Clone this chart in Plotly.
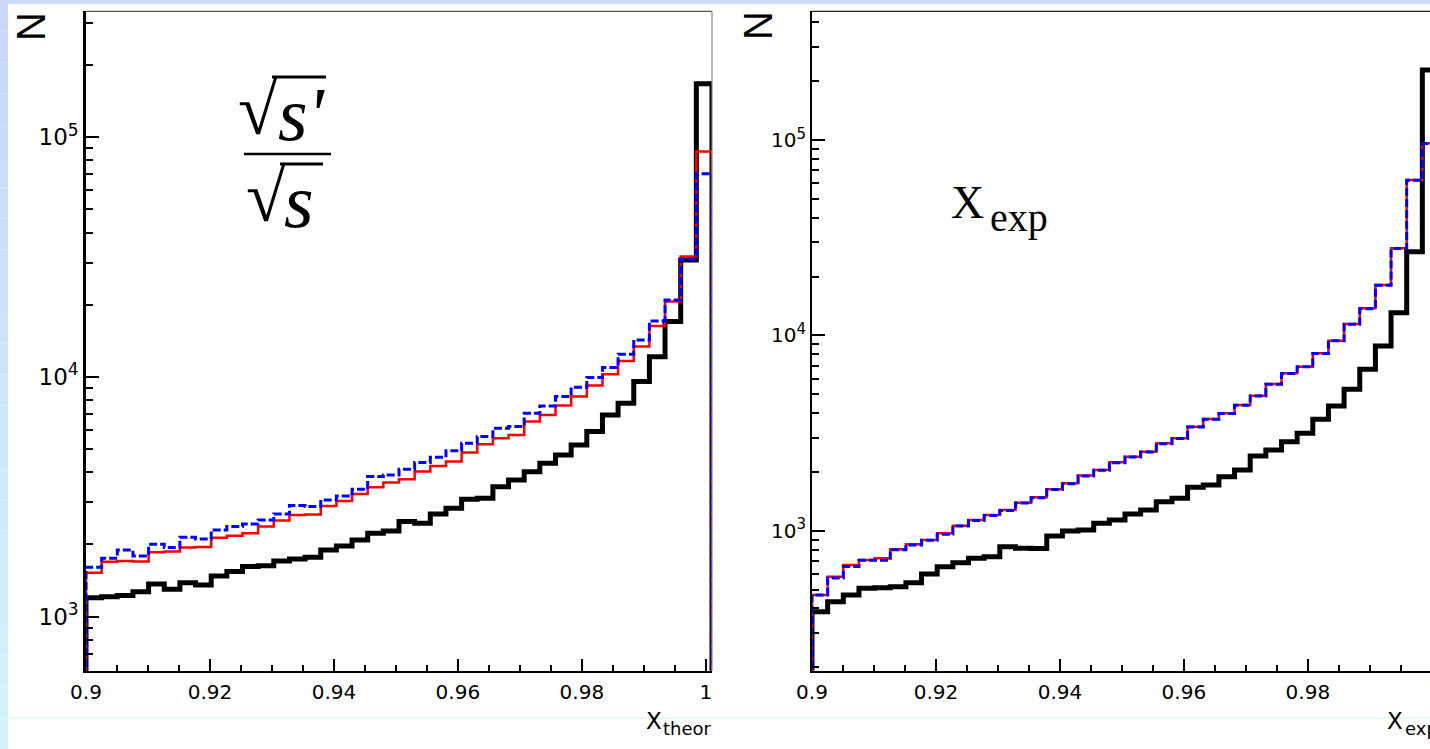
import numpy as np
import plotly.graph_objects as go

# ---------------- data ----------------
BIN_LO, BIN_HI, N_BINS = 0.9, 1.001, 40

theor_black = [1200, 1210, 1225, 1271, 1369, 1301, 1386, 1356, 1478, 1541,
               1617, 1632, 1708, 1741, 1769, 1898, 1972, 2089, 2228, 2278,
               2491, 2453, 2682, 2833, 3089, 3119, 3486, 3719, 4026, 4365,
               4728, 5204, 5914, 6942, 7767, 9559, 12150, 17010, 30770, 166900]
theor_red = [1526, 1696, 1708, 1700, 1857, 1870, 1941, 1950, 2136, 2177,
             2228, 2375, 2515, 2656, 2670, 2896, 3039, 3250, 3467, 3624,
             3743, 4027, 4254, 4433, 4833, 5238, 5550, 5728, 6511, 6943,
             7593, 8276, 9199, 10264, 11660, 13380, 16320, 20620, 31760, 87100]
theor_blue = [1607, 1752, 1898, 1792, 2005, 1941, 2144, 2109, 2300, 2375,
              2436, 2532, 2682, 2905, 2877, 3068, 3187, 3400, 3838, 3901,
              4121, 4390, 4624, 4926, 5289, 5636, 6109, 6204, 7057, 7570,
              8276, 9058, 9933, 10935, 12435, 14270, 17125, 20950, 30970, 70300]

exp_black = [385, 433, 469, 507, 510, 517, 542, 600, 654, 686,
             722, 736, 828, 813, 810, 939, 997, 1008, 1091, 1134,
             1217, 1276, 1408, 1465, 1668, 1714, 1890, 2046, 2413, 2590,
             2855, 3153, 3719, 4350, 5297, 6707, 8826, 13070, 26830, 228500]
exp_red = [469, 581, 667, 708, 722, 803, 852, 896, 970, 1061,
           1134, 1203, 1276, 1391, 1483, 1629, 1748, 1915, 2046, 2239,
           2393, 2538, 2803, 2973, 3408, 3731, 3991, 4401, 4912, 5638,
           6397, 6914, 8095, 9395, 11440, 13760, 18120, 27920, 62500, 96300]
exp_blue = [469, 572, 655, 705, 705, 800, 845, 893, 960, 1058,
            1128, 1195, 1270, 1385, 1475, 1625, 1740, 1905, 2040, 2230,
            2385, 2530, 2790, 2965, 3400, 3720, 3985, 4390, 4900, 5620,
            6380, 6900, 8080, 9380, 11400, 13700, 18050, 27800, 62300, 96000]

x_tickvals = [0.9, 0.92, 0.94, 0.96, 0.98, 1.0]
x_ticktext = ["0.9", "0.92", "0.94", "0.96", "0.98", "1"]
y_tickvals = [1e3, 1e4, 1e5]
y_exponents = ["3", "4", "5"]

# ---------------- layout helpers ----------------
W, H = 1430, 749
FLOOR = 10


def px(x):
    return x / W


def py(y):
    return 1 - y / H


def step_xy(vals):
    e = np.linspace(BIN_LO, BIN_HI, N_BINS + 1)
    xs = [e[0]] + list(e[:-1]) + [e[-1]]
    ys = [FLOOR] + list(vals) + [FLOOR]
    return xs, ys


fig = go.Figure()

styles = [
    dict(color="black", width=5),
    dict(color="#ff0000", width=2.5),
    dict(color="#0000ff", width=3, dash="8px,3px"),
]
for xa, ya, series in [("x", "y", [theor_black, theor_red, theor_blue]),
                       ("x2", "y2", [exp_black, exp_red, exp_blue])]:
    for vals, st in zip(series, styles):
        xs, ys = step_xy(vals)
        fig.add_trace(go.Scatter(x=xs, y=ys, mode="lines", line=dict(shape="hv", **st),
                                 xaxis=xa, yaxis=ya, showlegend=False, hoverinfo="skip"))

sans = "DejaVu Sans, Liberation Sans, Arial, sans-serif"
serif = "Liberation Serif, Times New Roman, serif"
narrow = "Liberation Sans Narrow, Arial Narrow, Liberation Sans, sans-serif"

minor_x = [round(0.9 + 0.005 * i, 3) for i in range(21)]


def xaxis_cfg(domain, rng, anchor):
    return dict(domain=domain, range=rng, anchor=anchor, showline=True, linewidth=2, linecolor="black",
                ticks="inside", ticklen=12, tickwidth=1.5, tickcolor="black",
                tickmode="array", tickvals=x_tickvals, ticktext=x_ticktext,
                tickfont=dict(family=sans, size=20, color="black"),
                showgrid=False, zeroline=False, ticklabelstandoff=2, automargin=False,
                minor=dict(tickmode="array", tickvals=minor_x, ticks="inside",
                           ticklen=6, tickwidth=1.5, tickcolor="black", showgrid=False))


def yaxis_cfg(anchor, rng, lw, minor_vals, fsize, supsize):
    ticktext = ["10<sup><span style='font-size:%dpx'>%s</span></sup>" % (supsize, e) for e in y_exponents]
    return dict(domain=[py(670.7), py(11.3)], type="log", range=rng, anchor=anchor,
                showline=True, linewidth=lw, linecolor="black",
                ticks="inside", ticklen=13, tickwidth=2, tickcolor="black",
                tickmode="array", tickvals=y_tickvals, ticktext=ticktext,
                tickfont=dict(family=sans, size=fsize, color="black"),
                showgrid=False, zeroline=False, automargin=False,
                minor=dict(tickmode="array", tickvals=minor_vals, ticks="inside",
                           ticklen=7, tickwidth=1.5, tickcolor="black", showgrid=False))


minor_y1 = [m * 10 ** d for d in (2, 3, 4, 5) for m in range(2, 10) if 595 < m * 10 ** d < 335000]
minor_y2 = [m * 10 ** d for d in (2, 3, 4, 5) for m in range(2, 10) if 192 < m * 10 ** d < 456000]

scale = (712 - 86) / (BIN_HI - BIN_LO)
x2_end = BIN_LO + (W - 812) / scale

fig.update_layout(
    width=W, height=H, autosize=False,
    margin=dict(l=0, r=0, t=0, b=0, pad=0, autoexpand=False),
    paper_bgcolor="white", plot_bgcolor="white",
    font=dict(family=sans, size=20, color="black"),
    xaxis=xaxis_cfg([px(86), px(712)], [BIN_LO, BIN_HI], "y"),
    yaxis=yaxis_cfg("x", [np.log10(595), np.log10(335000)], 2.5, minor_y1, 23, 17),
    xaxis2=xaxis_cfg([px(812), 1.0], [BIN_LO, x2_end], "y2"),
    yaxis2=yaxis_cfg("x2", [np.log10(192), np.log10(456000)], 2, minor_y2, 20, 15),
)

shapes = []
# background decoration: top band and left gradient strip
shapes.append(dict(type="rect", xref="paper", yref="paper", x0=0, x1=1, y0=py(4), y1=1,
                   fillcolor="#cbd9fb", line=dict(width=0), layer="below"))
c0 = np.array([0xc9, 0xd7, 0xfa])
c1 = np.array([0xd1, 0xf4, 0xfc])
nseg = 24
for i in range(nseg):
    t = i / (nseg - 1)
    c = (c0 * (1 - t) + c1 * t).astype(int)
    shapes.append(dict(type="rect", xref="paper", yref="paper", x0=0, x1=px(8),
                       y0=py(H * (i + 1) / nseg), y1=py(H * i / nseg),
                       fillcolor="rgb(%d,%d,%d)" % tuple(c), line=dict(width=0), layer="below"))
shapes.append(dict(type="line", xref="paper", yref="paper", x0=px(8), x1=1, y0=py(718), y1=py(718),
                   line=dict(color="#d3f1fa", width=1.2), layer="below"))
# frame lines
shapes.append(dict(type="line", xref="paper", yref="paper", x0=px(86), x1=px(712), y0=py(11.3), y1=py(11.3),
                   line=dict(color="#555555", width=1.2)))
shapes.append(dict(type="line", xref="paper", yref="paper", x0=px(712), x1=px(712), y0=py(11.3), y1=py(670.7),
                   line=dict(color="#888888", width=1.2)))
shapes.append(dict(type="line", xref="paper", yref="paper", x0=px(812), x1=1, y0=py(11.3), y1=py(11.3),
                   line=dict(color="#222222", width=1.2)))
# fraction decorations (vinculums and bar)
shapes.append(dict(type="line", xref="paper", yref="paper", x0=px(272), x1=px(326), y0=py(77), y1=py(77),
                   line=dict(color="black", width=3)))
shapes.append(dict(type="line", xref="paper", yref="paper", x0=px(244), x1=px(331), y0=py(154), y1=py(154),
                   line=dict(color="black", width=2.5)))
shapes.append(dict(type="line", xref="paper", yref="paper", x0=px(280), x1=px(323), y0=py(164), y1=py(164),
                   line=dict(color="black", width=3)))
fig.update_layout(shapes=shapes)


def ann(text, x, y, size, family, xanchor="left", yanchor="middle", angle=0, weight="normal",
        style="normal"):
    return dict(text=text, x=px(x), y=py(y), xref="paper", yref="paper", showarrow=False,
                xanchor=xanchor, yanchor=yanchor, textangle=angle, borderpad=0,
                font=dict(family=family, size=size, color="black", weight=weight, style=style))


annotations = [
    ann("N", 31, 26, 40, narrow, xanchor="center", angle=-90),
    ann("N", 758, 26, 40, narrow, xanchor="center", angle=-90),
    ann("X", 645, 721, 23, sans),
    ann("theor", 662, 728, 18, sans),
    ann("X", 1386, 721, 23, sans),
    ann("exp", 1404, 728, 18, sans),
    ann("1", 1434, 687, 20, sans, xanchor="center"),
    # sqrt(s')/sqrt(s)
    ann("√", 258, 110, 72, serif, xanchor="center", weight="bold"),
    ann("s'", 277, 114, 76, serif, style="italic"),
    ann("√", 266, 197, 72, serif, xanchor="center", weight="bold"),
    ann("s", 283, 201, 76, serif, style="italic"),
    # X_exp
    ann("X", 950, 203, 46, serif),
    ann("exp", 989, 218, 40, serif),
]
fig.update_layout(annotations=annotations)

fig.write_html("out.html")
